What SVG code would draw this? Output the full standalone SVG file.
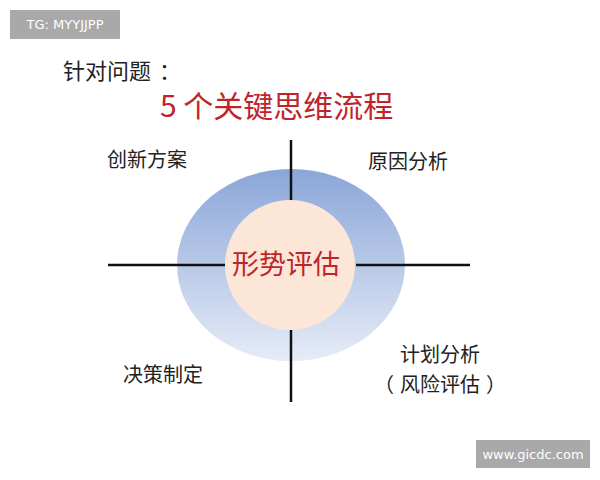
<svg xmlns="http://www.w3.org/2000/svg" width="600" height="480" viewBox="0 0 600 480">
<style>
.lbl{font-family:"Noto Sans CJK SC","Liberation Sans",sans-serif;font-size:20px;fill:#222}
.red{font-family:"Noto Sans CJK SC","Liberation Sans",sans-serif;fill:#c0242b}
.wm{font-family:"DejaVu Sans","Liberation Sans",sans-serif;font-size:13px;fill:#fff}
.ax{stroke:#111;stroke-width:2.5}
</style>
<defs>
<linearGradient id="g" x1="0" y1="0" x2="0" y2="1">
<stop offset="0" stop-color="#8aa6d8"/>
<stop offset="1" stop-color="#e6ecf7"/>
</linearGradient>
</defs>
<rect width="600" height="480" fill="#fff"/>
<g id="wm1"><rect x="10" y="10" width="110" height="29" fill="#a9a9a9"/><text class="wm" x="65" y="29" text-anchor="middle">TG: MYYJJPP</text></g>
<g id="title"><text x="63" y="79" font-family="Noto Sans CJK SC,sans-serif" font-size="22" fill="#222">针对问题<tspan dx="8">：</tspan></text>
<text class="red" x="160" y="117" font-size="30">5 个关键思维流程</text></g>
<g id="outer"><ellipse cx="291" cy="265" rx="114" ry="96" fill="url(#g)"/></g>
<g id="connectors">
<line class="ax" x1="108" y1="265" x2="226" y2="265"/>
<line class="ax" x1="356" y1="265" x2="470" y2="265"/>
<line class="ax" x1="291" y1="140" x2="291" y2="201"/>
<line class="ax" x1="291" y1="330" x2="291" y2="402"/>
</g>
<g id="center"><circle cx="290" cy="265" r="65" fill="#fce6d8"/><text class="red" x="286" y="274" font-size="27" text-anchor="middle">形势评估</text></g>
<g id="n1"><text class="lbl" x="107" y="167">创新方案</text></g>
<g id="n2"><text class="lbl" x="368" y="169">原因分析</text></g>
<g id="n3"><text class="lbl" x="123" y="382">决策制定</text></g>
<g id="n4"><text class="lbl" x="400" y="362">计划分析</text><text class="lbl" x="440" y="392" text-anchor="middle">（<tspan dx="6">风险评估</tspan><tspan dx="6">）</tspan></text></g>
<g id="wm2"><rect x="476" y="440" width="114" height="28" fill="#a9a9a9"/><text class="wm" x="533" y="459" text-anchor="middle">www.gicdc.com</text></g>
</svg>
